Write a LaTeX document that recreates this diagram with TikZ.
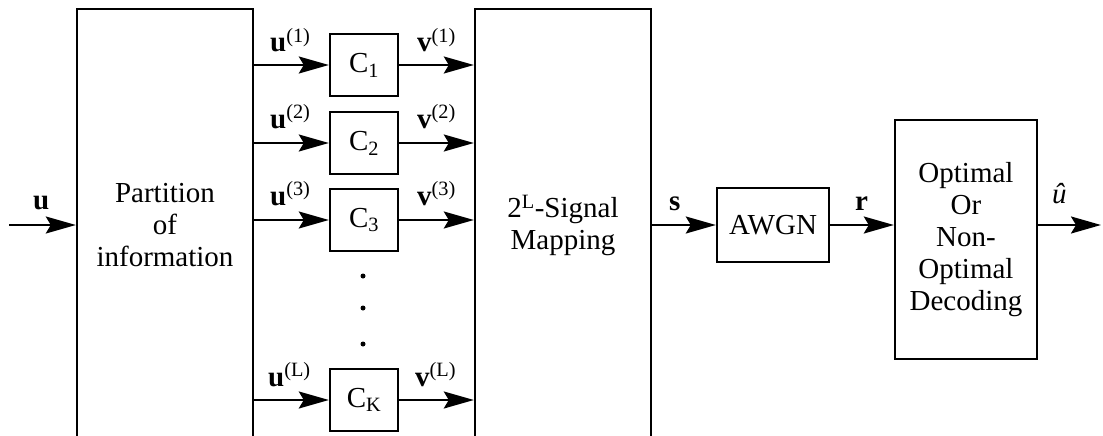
\documentclass[tikz,border=0pt]{standalone}
\usepackage{fontspec}
\setmainfont{Liberation Serif}
\usetikzlibrary{arrows.meta}
\begin{document}
\begin{tikzpicture}[x=1pt,y=-1pt,
  every node/.style={font=\fontsize{29}{32}\selectfont},
  box/.style={draw, line width=2.4pt, inner sep=0pt, align=center},
  lab/.style={inner sep=0pt, anchor=base west},
  dotn/.style={circle, fill, inner sep=0pt, minimum size=5pt},
  arr/.style={line width=2.2pt, -{Stealth[length=30pt,width=17pt,inset=5pt]}}]
\useasboundingbox (0,0) rectangle (1103,436);
\clip (0,0) rectangle (1103,436);
% blocks
\node[box, minimum width=176pt, minimum height=432pt] (part) at (165,225) {Partition\\of\\information};
\node[box, minimum width=176pt, minimum height=432pt] (map) at (563,225) {2\textsuperscript{L}-Signal\\Mapping};
\node[box, minimum width=68pt, minimum height=62pt] (c1) at (364,65) {C\textsubscript{1}};
\node[box, minimum width=68pt, minimum height=62pt] (c2) at (364,143) {C\textsubscript{2}};
\node[box, minimum width=68pt, minimum height=62pt] (c3) at (364,220) {C\textsubscript{3}};
\node[box, minimum width=68pt, minimum height=62pt] (ck) at (364,400) {C\textsubscript{K}};
\node[box, minimum width=112pt, minimum height=74pt] (awgn) at (773,225) {AWGN};
\node[box, minimum width=142pt, minimum height=239pt] (dec) at (966,239.5) {Optimal\\Or\\Non-\\Optimal\\Decoding};
% dots
\node[dotn] (dot1) at (363,276) {};
\node[dotn] (dot2) at (363,308) {};
\node[dotn] (dot3) at (363,344) {};
% connectors
\coordinate (in) at (9,225);
\coordinate (out) at (1101,225);
\draw[arr] (in) -- (in -| part.west);
\draw[arr] (part.east |- c1) -- (c1.west);
\draw[arr] (part.east |- c2) -- (c2.west);
\draw[arr] (part.east |- c3) -- (c3.west);
\draw[arr] (part.east |- ck) -- (ck.west);
\draw[arr] (c1.east) -- (c1.east -| map.west);
\draw[arr] (c2.east) -- (c2.east -| map.west);
\draw[arr] (c3.east) -- (c3.east -| map.west);
\draw[arr] (ck.east) -- (ck.east -| map.west);
\draw[arr] (map.east |- awgn) -- (awgn.west);
\draw[arr] (awgn.east) -- (awgn.east -| dec.west);
\draw[arr] (dec.east |- awgn) -- (out);
% labels
\node[lab] (lu) at (33,209) {\textbf{u}};
\node[lab] (lu1) at (270,52) {\textbf{u}\textsuperscript{(1)}};
\node[lab] (lv1) at (417,52) {\textbf{v}\textsuperscript{(1)}};
\node[lab] (lu2) at (270,128) {\textbf{u}\textsuperscript{(2)}};
\node[lab] (lv2) at (417,128) {\textbf{v}\textsuperscript{(2)}};
\node[lab] (lu3) at (270,205) {\textbf{u}\textsuperscript{(3)}};
\node[lab] (lv3) at (417,205) {\textbf{v}\textsuperscript{(3)}};
\node[lab] (luL) at (268,386) {\textbf{u}\textsuperscript{(L)}};
\node[lab] (lvL) at (415,386) {\textbf{v}\textsuperscript{(L)}};
\node[lab] (ls) at (669,210) {\textbf{s}};
\node[lab] (lr) at (855,210) {\textbf{r}};
\node[lab] (luhat) at (1052,203) {\textit{\^{u}}};
\end{tikzpicture}
\end{document}
